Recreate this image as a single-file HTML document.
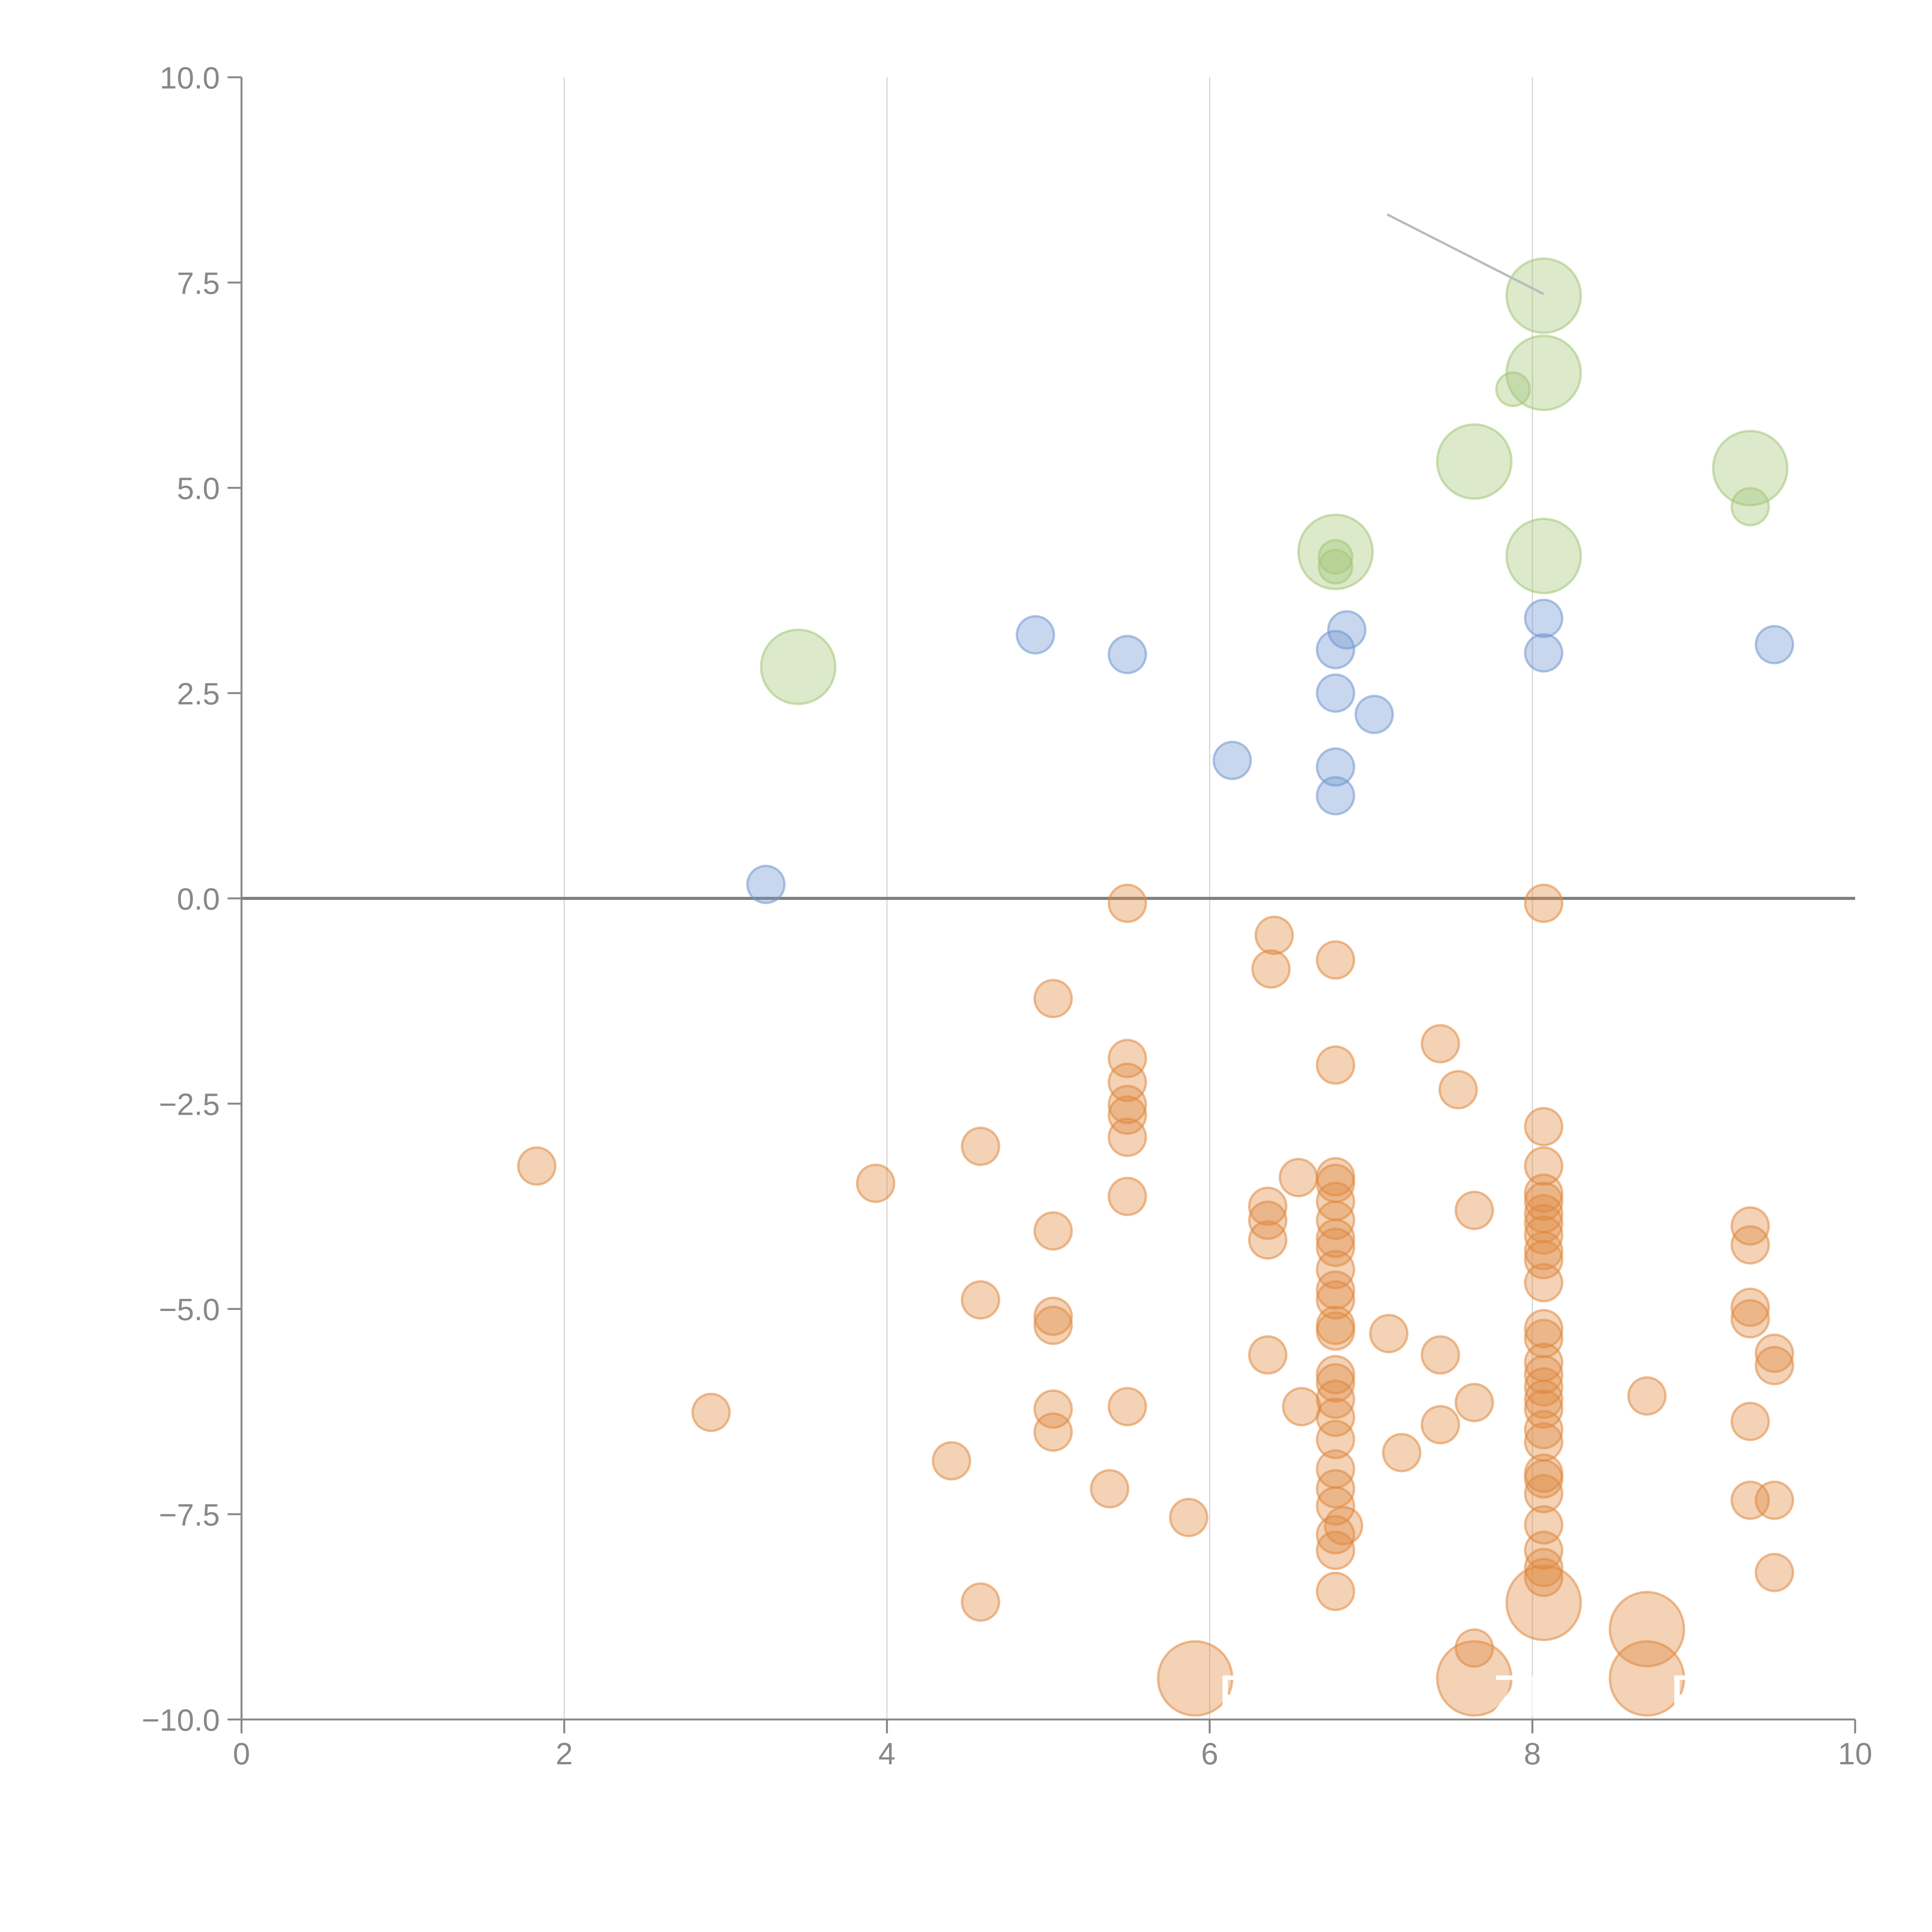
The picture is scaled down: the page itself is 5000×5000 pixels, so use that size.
<!DOCTYPE html>
<html><head><meta charset="utf-8">
<style>
html,body{margin:0;padding:0;background:#fff;}
svg{display:block;}
text{font-family:"Liberation Sans",Arial,sans-serif;}
</style></head>
<body>
<svg id="chart" width="5000" height="5000" viewBox="0 0 5000 5000" xmlns="http://www.w3.org/2000/svg">
<g id="grid"></g>
<g id="axes"></g>
<g id="marks"></g>
<g id="annot"></g>
</svg>
<script>
const xTicks = [0, 2, 4, 6, 8, 10];
const yTicks = [-10, -7.5, -5, -2.5, 0, 2.5, 5, 7.5, 10];
const yTickLabels = ["\u221210.0","\u22127.5","\u22125.0","\u22122.5","0.0","2.5","5.0","7.5","10.0"];

const blueX = [3.25,4.92,5.49,6.14,6.78,6.85,6.78,6.78,6.78,7.02,8.07,8.07,9.50];
const blueY = [0.17,3.21,2.97,1.68,3.03,3.27,2.50,1.60,1.25,2.24,3.41,2.99,3.09];
const blueS = [1,1,1,1,1,1,1,1,1,1,1,1,1];

const greenX = [3.45,6.78,6.78,6.78,7.64,8.07,8.07,7.88,8.07,9.35,9.35];
const greenY = [2.82,4.22,4.16,4.04,5.32,7.34,6.40,6.20,4.17,5.24,4.77];
const greenS = [2,2,0.9,0.9,2,2,2,0.9,2,2,1];

const orangeX = [1.83,2.91,3.93,4.58,4.58,4.40,4.58,5.03,5.03,5.03,5.03,5.03,5.03,5.38,
5.49,5.49,5.49,5.49,5.49,5.49,5.49,5.49,5.87,6.40,6.38,6.36,6.36,6.36,6.36,6.55,6.57,
6.78,6.78,6.78,6.78,6.78,6.78,6.78,6.78,6.78,6.78,6.78,6.78,6.78,6.78,6.78,6.78,6.78,6.78,6.78,6.78,6.78,6.78,6.78,6.78,
6.83,7.11,7.19,7.43,7.43,7.43,7.54,7.64,7.64,7.64,
8.07,8.07,8.07,8.07,8.07,8.07,8.07,8.07,8.07,8.07,8.07,8.07,8.07,8.07,8.07,8.07,8.07,8.07,8.07,8.07,8.07,8.07,8.07,8.07,8.07,8.07,8.07,
8.71,9.35,9.35,9.35,9.35,9.35,9.35,9.50,9.50,9.50,9.50,
5.91,7.64,8.71,8.71,8.07];
const orangeY = [-3.26,-6.26,-3.47,-3.02,-4.89,-6.85,-8.57,-1.22,-4.05,-5.09,-5.20,-6.22,-6.50,-7.19,
-0.06,-1.95,-2.24,-2.51,-2.64,-2.91,-3.63,-6.19,-7.54,-0.45,-0.86,-3.75,-3.92,-4.16,-5.56,-3.40,-6.19,
-0.75,-2.03,-3.39,-3.47,-3.69,-3.92,-4.14,-4.25,-4.52,-4.77,-4.89,-5.20,-5.27,-5.80,-5.90,-6.10,-6.32,-6.59,-6.95,-7.19,-7.40,-7.75,-7.94,-8.44,
-7.64,-5.30,-6.75,-1.77,-5.56,-6.41,-2.33,-3.80,-6.14,-9.13,
-0.06,-2.78,-3.26,-3.59,-3.69,-3.84,-3.96,-4.10,-4.29,-4.40,-4.68,-5.24,-5.36,-5.65,-5.80,-5.95,-6.10,-6.22,-6.47,-6.62,-7.00,-7.07,-7.25,-7.63,-7.94,-8.15,-8.27,
-6.06,-3.99,-4.22,-4.98,-5.12,-6.37,-7.33,-5.54,-5.69,-7.33,-8.21,
-9.50,-9.50,-9.50,-8.90,-8.58];
const orangeS = orangeX.map((_, i) => i >= orangeX.length - 5 ? 2 : 1);

const NS = "http://www.w3.org/2000/svg";
const X0 = 625, X1 = 4801, YT = 200, YB = 4450;
function xs(v){ return X0 + (v - 0) / 10 * (X1 - X0); }
function ys(v){ return YB - (v + 10) / 20 * (YB - YT); }
function rs(s){ return s * 48; }
function mk(tag, attrs, parent){
  const e = document.createElementNS(NS, tag);
  for (const k in attrs) e.setAttribute(k, attrs[k]);
  parent.appendChild(e);
  return e;
}
const grid = document.getElementById('grid');
const axes = document.getElementById('axes');
const marks = document.getElementById('marks');
const annot = document.getElementById('annot');

xTicks.forEach(t => {
  if (t > 0 && t < 10) {
    const g = mk('line', {x1: xs(t), x2: xs(t), y1: YT, y2: YB, stroke: '#d6d6d6', 'stroke-width': 3}, grid);
    
    
  }
  const tk = mk('line', {x1: xs(t), x2: xs(t), y1: YB, y2: YB + 36, stroke: '#888', 'stroke-width': 5}, axes);
  
  
  const lb = mk('text', {x: xs(t), y: YB + 116, 'text-anchor': 'middle', 'font-size': 80, fill: '#888'}, axes);
  lb.textContent = String(t);
  
  
});
yTicks.forEach((t, i) => {
  const tk = mk('line', {x1: X0 - 36, x2: X0, y1: ys(t), y2: ys(t), stroke: '#888', 'stroke-width': 5}, axes);
  
  
  const lb = mk('text', {x: X0 - 56, y: ys(t) + 29, 'text-anchor': 'end', 'font-size': 80, fill: '#888'}, axes);
  lb.textContent = yTickLabels[i];
  
  
});
const ya = mk('line', {x1: X0, x2: X0, y1: YT, y2: YB, stroke: '#888', 'stroke-width': 5}, axes);


const xa = mk('line', {x1: X0, x2: X1, y1: YB, y2: YB, stroke: '#888', 'stroke-width': 5}, axes);


const zl = mk('line', {x1: X0, x2: X1, y1: ys(0), y2: ys(0), stroke: '#808080', 'stroke-width': 8}, axes);



function series(X, Y, S, fill, name){
  X.forEach((x, i) => {
    const c = mk('circle', {cx: xs(x), cy: ys(Y[i]), r: rs(S[i]), fill: fill, 'fill-opacity': 0.38, stroke: fill, 'stroke-opacity': 0.55, 'stroke-width': 6}, marks);
    
    
  });
}
series(orangeX, orangeY, orangeS, '#e0883f', 'bubble-orange');
series(blueX, blueY, blueS, '#6f97cf', 'bubble-blue');
series(greenX, greenY, greenS, '#a3c676', 'bubble-green');

const ln = mk('line', {x1: xs(7.1), y1: ys(8.33), x2: xs(8.07), y2: ys(7.36), stroke: '#bbb', 'stroke-width': 6}, annot);



const labelsT = ["F", "ZE", "R"];
const labelsX = [6.05, 7.75, 8.85];
const labelsY = [-9.95, -9.95, -9.95];
labelsT.forEach((t, i) => {
  const lb = mk('text', {x: xs(labelsX[i]), y: ys(labelsY[i]), 'font-size': 150, fill: '#fff'}, annot);
  lb.textContent = t;
  
  
});
</script>
</body></html>
